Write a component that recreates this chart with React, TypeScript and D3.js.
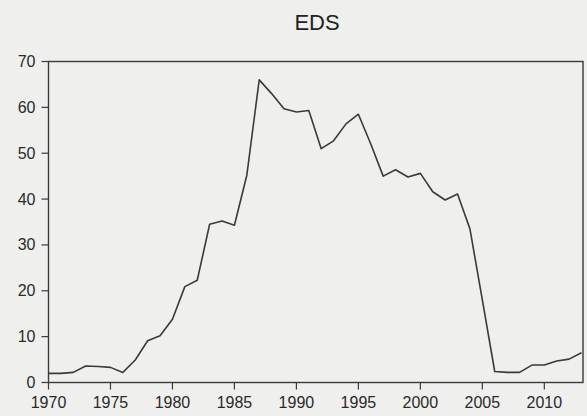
import React from "react";
import * as d3 from "d3";

const years: number[] = d3.range(1970, 2014);
const edsValues: number[] = [
  2.0, 2.0, 2.2, 3.6, 3.5, 3.3, 2.2, 4.9, 9.1, 10.2,
  13.8, 20.9, 22.3, 34.5, 35.2, 34.3, 45.2, 66.0, 63.0, 59.7,
  59.0, 59.3, 51.0, 52.7, 56.4, 58.5, 52.0, 45.0, 46.4, 44.8,
  45.6, 41.6, 39.8, 41.1, 33.5, 18.0, 2.4, 2.2, 2.2, 3.8,
  3.8, 4.7, 5.1, 6.5,
];
const xTickYears: number[] = [1970, 1975, 1980, 1985, 1990, 1995, 2000, 2005, 2010];
const yTickValues: number[] = [0, 10, 20, 30, 40, 50, 60, 70];
const title = "EDS";

export default function App() {
  const W = 587, H = 416;
  const left = 48.5, right = 583, top = 61.5, bottom = 382.5;
  const x = d3.scaleLinear().domain([1970, 2013]).range([left, 581.5]);
  const y = d3.scaleLinear().domain([0, 70]).range([bottom, top]);
  const line = d3
    .line<number>()
    .x((_, i) => x(years[i]))
    .y((d) => y(d));
  const font = "'Liberation Sans', Arial, sans-serif";
  const ink = "#3a3a3a";
  return (
    <svg
      width={W}
      height={H}
      style={{ position: "absolute", left: 0, top: 0, background: "#efefed" }}
    >
      <rect x={0} y={0} width={W} height={H} fill="#efefed" />
      <text x={317} y={30} textAnchor="middle" fontFamily={font} fontSize={22} fill="#222">
        {title}
      </text>
      <rect
        x={left}
        y={top}
        width={right - left}
        height={bottom - top}
        fill="none"
        stroke={ink}
        strokeWidth={1.4}
      />
      {yTickValues.map((v) => (
        <g key={v}>
          <line x1={left - 7} x2={left} y1={y(v)} y2={y(v)} stroke={ink} strokeWidth={1.2} />
          <text
            x={left - 13}
            y={y(v) + 5.5}
            textAnchor="end"
            fontFamily={font}
            fontSize={16}
            fill="#2a2a2a"
          >
            {v}
          </text>
        </g>
      ))}
      {xTickYears.map((t) => (
        <g key={t}>
          <line x1={x(t)} x2={x(t)} y1={bottom} y2={bottom + 7} stroke={ink} strokeWidth={1.2} />
          <text
            x={x(t)}
            y={408}
            textAnchor="middle"
            fontFamily={font}
            fontSize={16}
            fill="#2a2a2a"
          >
            {t}
          </text>
        </g>
      ))}
      <path d={line(edsValues) || ""} fill="none" stroke={ink} strokeWidth={1.6} strokeLinejoin="round" />
    </svg>
  );
}
